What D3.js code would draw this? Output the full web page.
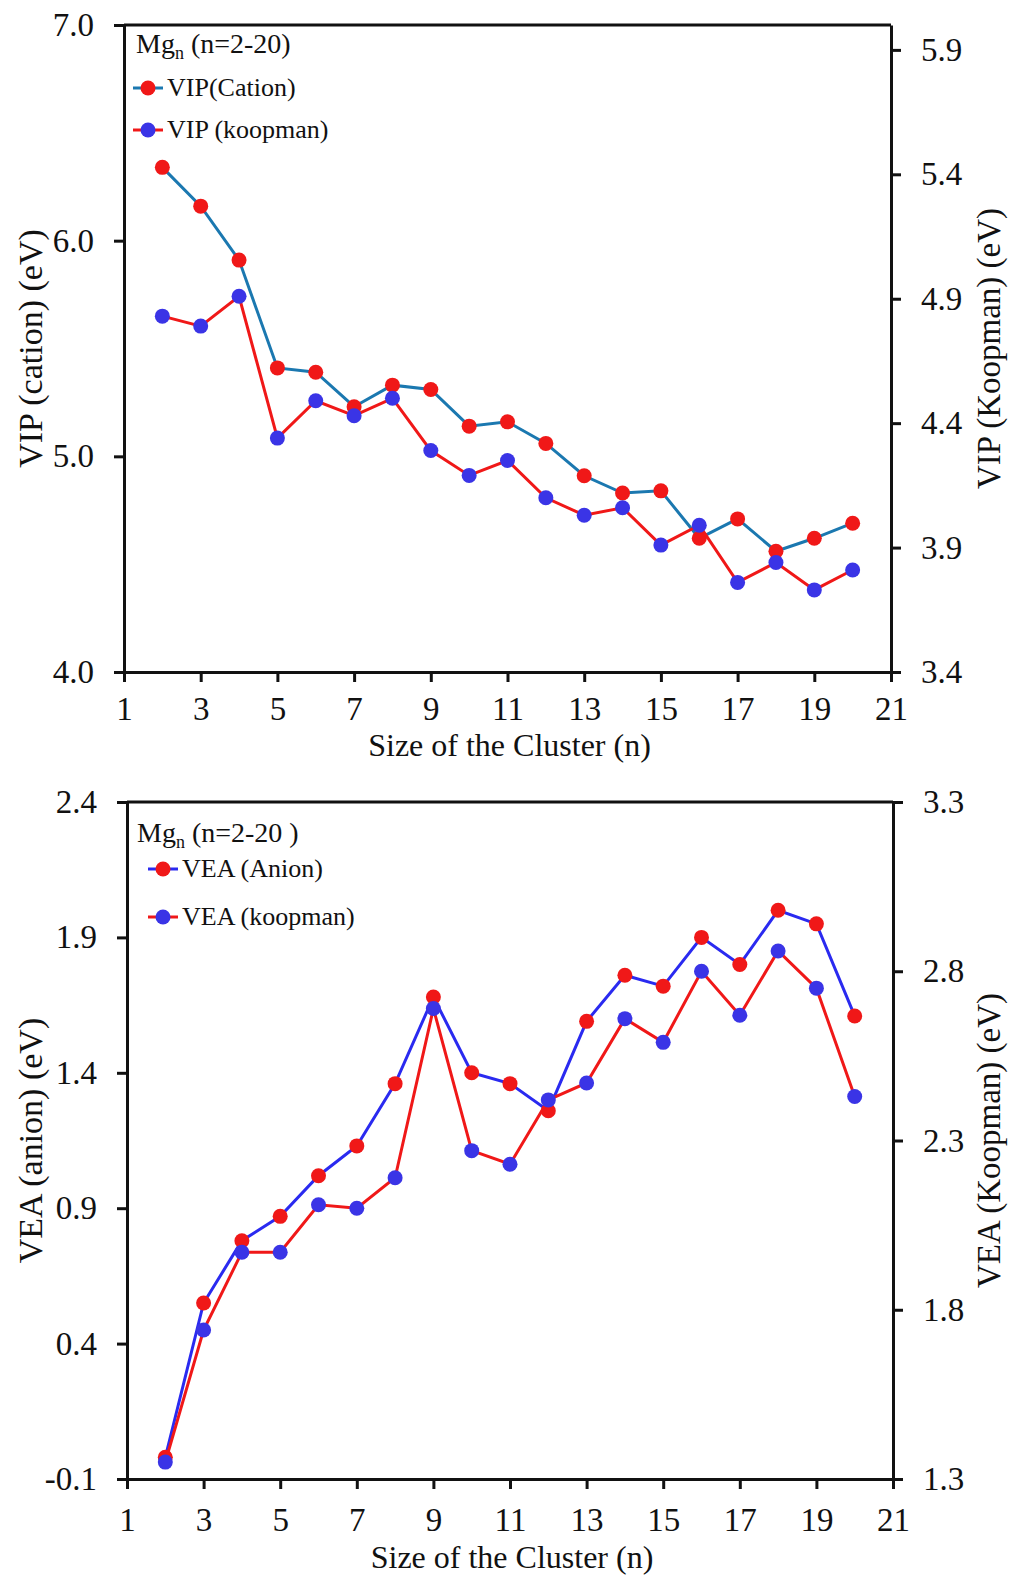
<!DOCTYPE html>
<head>
  <meta charset="utf-8">
  <script src="https://d3js.org/d3.v7.min.js"></script>
  <style>
    body { margin: 0; background: #fff; }
    svg text { font-family: "Liberation Serif", "Times New Roman", serif; fill: #111; }
    .axis path, .axis line { stroke: #111; stroke-width: 3; }
  </style>
</head>
<body>
  <svg id="chart" width="1012" height="1576"></svg>
  <script>
    // cluster sizes
    const sizes = [2, 3, 4, 5, 6, 7, 8, 9, 10, 11, 12, 13, 14, 15, 16, 17, 18, 19, 20];
    const xTicks = [1, 3, 5, 7, 9, 11, 13, 15, 17, 19, 21];

    // top panel: ionisation potential
    const vipCation = [6.34, 6.16, 5.91, 5.41, 5.39, 5.23, 5.33, 5.31, 5.14, 5.16, 5.06, 4.91, 4.83, 4.84, 4.62, 4.71, 4.56, 4.62, 4.69];
    const vipKoopman = [4.83, 4.79, 4.91, 4.34, 4.49, 4.43, 4.50, 4.29, 4.19, 4.25, 4.10, 4.03, 4.06, 3.91, 3.99, 3.76, 3.84, 3.73, 3.81];
    const vipLeftTicks = [4.0, 5.0, 6.0, 7.0];
    const vipRightTicks = [3.4, 3.9, 4.4, 4.9, 5.4, 5.9];

    // bottom panel: electron affinity
    const veaAnion = [-0.02, 0.55, 0.78, 0.87, 1.02, 1.13, 1.36, 1.68, 1.40, 1.36, 1.26, 1.59, 1.76, 1.72, 1.90, 1.80, 2.00, 1.95, 1.61];
    const veaKoopman = [1.35, 1.74, 1.97, 1.97, 2.11, 2.10, 2.19, 2.69, 2.27, 2.23, 2.42, 2.47, 2.66, 2.59, 2.80, 2.67, 2.86, 2.75, 2.43];
    const veaLeftTicks = [-0.1, 0.4, 0.9, 1.4, 1.9, 2.4];
    const veaRightTicks = [1.3, 1.8, 2.3, 2.8, 3.3];

    const RED = "#f01818", BLUE = "#3a34e6", TEAL = "#1b78b0", LBLUE = "#2a2af0";

    const svg = d3.select("#chart");
    svg.append("rect").attr("width", 1012).attr("height", 1576).attr("fill", "#fff");

    // plain hyphen for negatives, like the original
    const fmt = v => d3.format(".1f")(v).replace("\u2212", "-");

    function drawPanel(p) {
      const g = svg.append("g");
      const x = d3.scaleLinear().domain([1, 21]).range([p.left, p.right]);
      const yL = d3.scaleLinear().domain(p.leftDomain).range([p.bottom, p.top]);
      const yR = d3.scaleLinear().domain(p.rightDomain).range([p.bottom, p.top]);

      // frame top line
      g.append("line").attr("x1", p.left).attr("x2", p.right)
        .attr("y1", p.top).attr("y2", p.top)
        .attr("stroke", "#111").attr("stroke-width", 3);

      const ax = g.append("g").attr("class", "axis")
        .attr("transform", `translate(0,${p.bottom})`)
        .call(d3.axisBottom(x).tickValues(xTicks).tickSize(10).tickSizeOuter(0).tickPadding(p.xPad));
      ax.selectAll("text").attr("font-size", 33).attr("dy", "0.71em");

      const al = g.append("g").attr("class", "axis")
        .attr("transform", `translate(${p.left},0)`)
        .call(d3.axisLeft(yL).tickValues(p.leftTicks).tickFormat(fmt).tickSize(10).tickSizeOuter(0).tickPadding(20));
      al.selectAll("text").attr("font-size", 33);

      const ar = g.append("g").attr("class", "axis")
        .attr("transform", `translate(${p.right},0)`)
        .call(d3.axisRight(yR).tickValues(p.rightTicks).tickFormat(fmt).tickSize(10).tickSizeOuter(0).tickPadding(20));
      ar.selectAll("text").attr("font-size", 33);
      g.selectAll(".axis .domain").attr("stroke-width", 3);

      // axis titles
      g.append("text").attr("x", (p.left + p.right) / 2 + 2).attr("y", p.bottom + p.titleOff)
        .attr("text-anchor", "middle").attr("font-size", 32).text("Size of the Cluster (n)");
      g.append("text").attr("transform", `translate(42,${(p.top + p.bottom) / 2}) rotate(-90)`)
        .attr("text-anchor", "middle").attr("font-size", 34).text(p.leftTitle);
      g.append("text").attr("transform", `translate(1000,${(p.top + p.bottom) / 2}) rotate(-90)`)
        .attr("text-anchor", "middle").attr("font-size", 33).text(p.rightTitle);

      // series
      p.series.forEach(s => {
        const y = s.axis === "left" ? yL : yR;
        const line = d3.line().x((d, i) => x(sizes[i])).y(d => y(d));
        g.append("path").datum(s.values).attr("d", line)
          .attr("fill", "none").attr("stroke", s.line).attr("stroke-width", 3);
        g.selectAll(null).data(s.values).enter().append("circle")
          .attr("cx", (d, i) => x(sizes[i])).attr("cy", d => y(d))
          .attr("r", 7.5).attr("fill", s.marker);
      });

      // legend
      const lg = g.append("g");
      const t = lg.append("text").attr("x", p.legX).attr("y", p.legY).attr("font-size", 28);
      t.append("tspan").text("Mg");
      t.append("tspan").attr("font-size", 18).attr("dy", 6).text("n");
      t.append("tspan").attr("dy", -6).text(p.legTitle);
      p.series.forEach((s, i) => {
        const yy = p.legY + p.legGap1 + i * p.legGap;
        lg.append("line").attr("x1", p.legLineX).attr("x2", p.legLineX + 30)
          .attr("y1", yy).attr("y2", yy).attr("stroke", s.line).attr("stroke-width", 3);
        lg.append("circle").attr("cx", p.legLineX + 15).attr("cy", yy).attr("r", 7.5).attr("fill", s.marker);
        lg.append("text").attr("x", p.legLineX + 34).attr("y", yy + 8)
          .attr("font-size", 26).text(s.name);
      });
    }

    drawPanel({
      left: 124, right: 891, top: 25, bottom: 672, xPad: 15, titleOff: 84,
      leftDomain: [4, 7], rightDomain: [3.4, 6.0],
      leftTicks: vipLeftTicks, rightTicks: vipRightTicks,
      leftTitle: "VIP (cation) (eV)", rightTitle: "VIP (Koopman) (eV)",
      legX: 136, legY: 53, legTitle: " (n=2-20)", legLineX: 133, legGap1: 35, legGap: 42,
      series: [
        { name: "VIP(Cation)", values: vipCation, axis: "left", line: TEAL, marker: RED },
        { name: "VIP (koopman)", values: vipKoopman, axis: "right", line: RED, marker: BLUE }
      ]
    });

    drawPanel({
      left: 127, right: 893, top: 802, bottom: 1479, xPad: 19, titleOff: 89,
      leftDomain: [-0.1, 2.4], rightDomain: [1.3, 3.3],
      leftTicks: veaLeftTicks, rightTicks: veaRightTicks,
      leftTitle: "VEA (anion) (eV)", rightTitle: "VEA (Koopman) (eV)",
      legX: 137, legY: 842, legTitle: " (n=2-20 )", legLineX: 148, legGap1: 27, legGap: 48,
      series: [
        { name: "VEA (Anion)", values: veaAnion, axis: "left", line: LBLUE, marker: RED },
        { name: "VEA (koopman)", values: veaKoopman, axis: "right", line: RED, marker: BLUE }
      ]
    });
  </script>
</body>
